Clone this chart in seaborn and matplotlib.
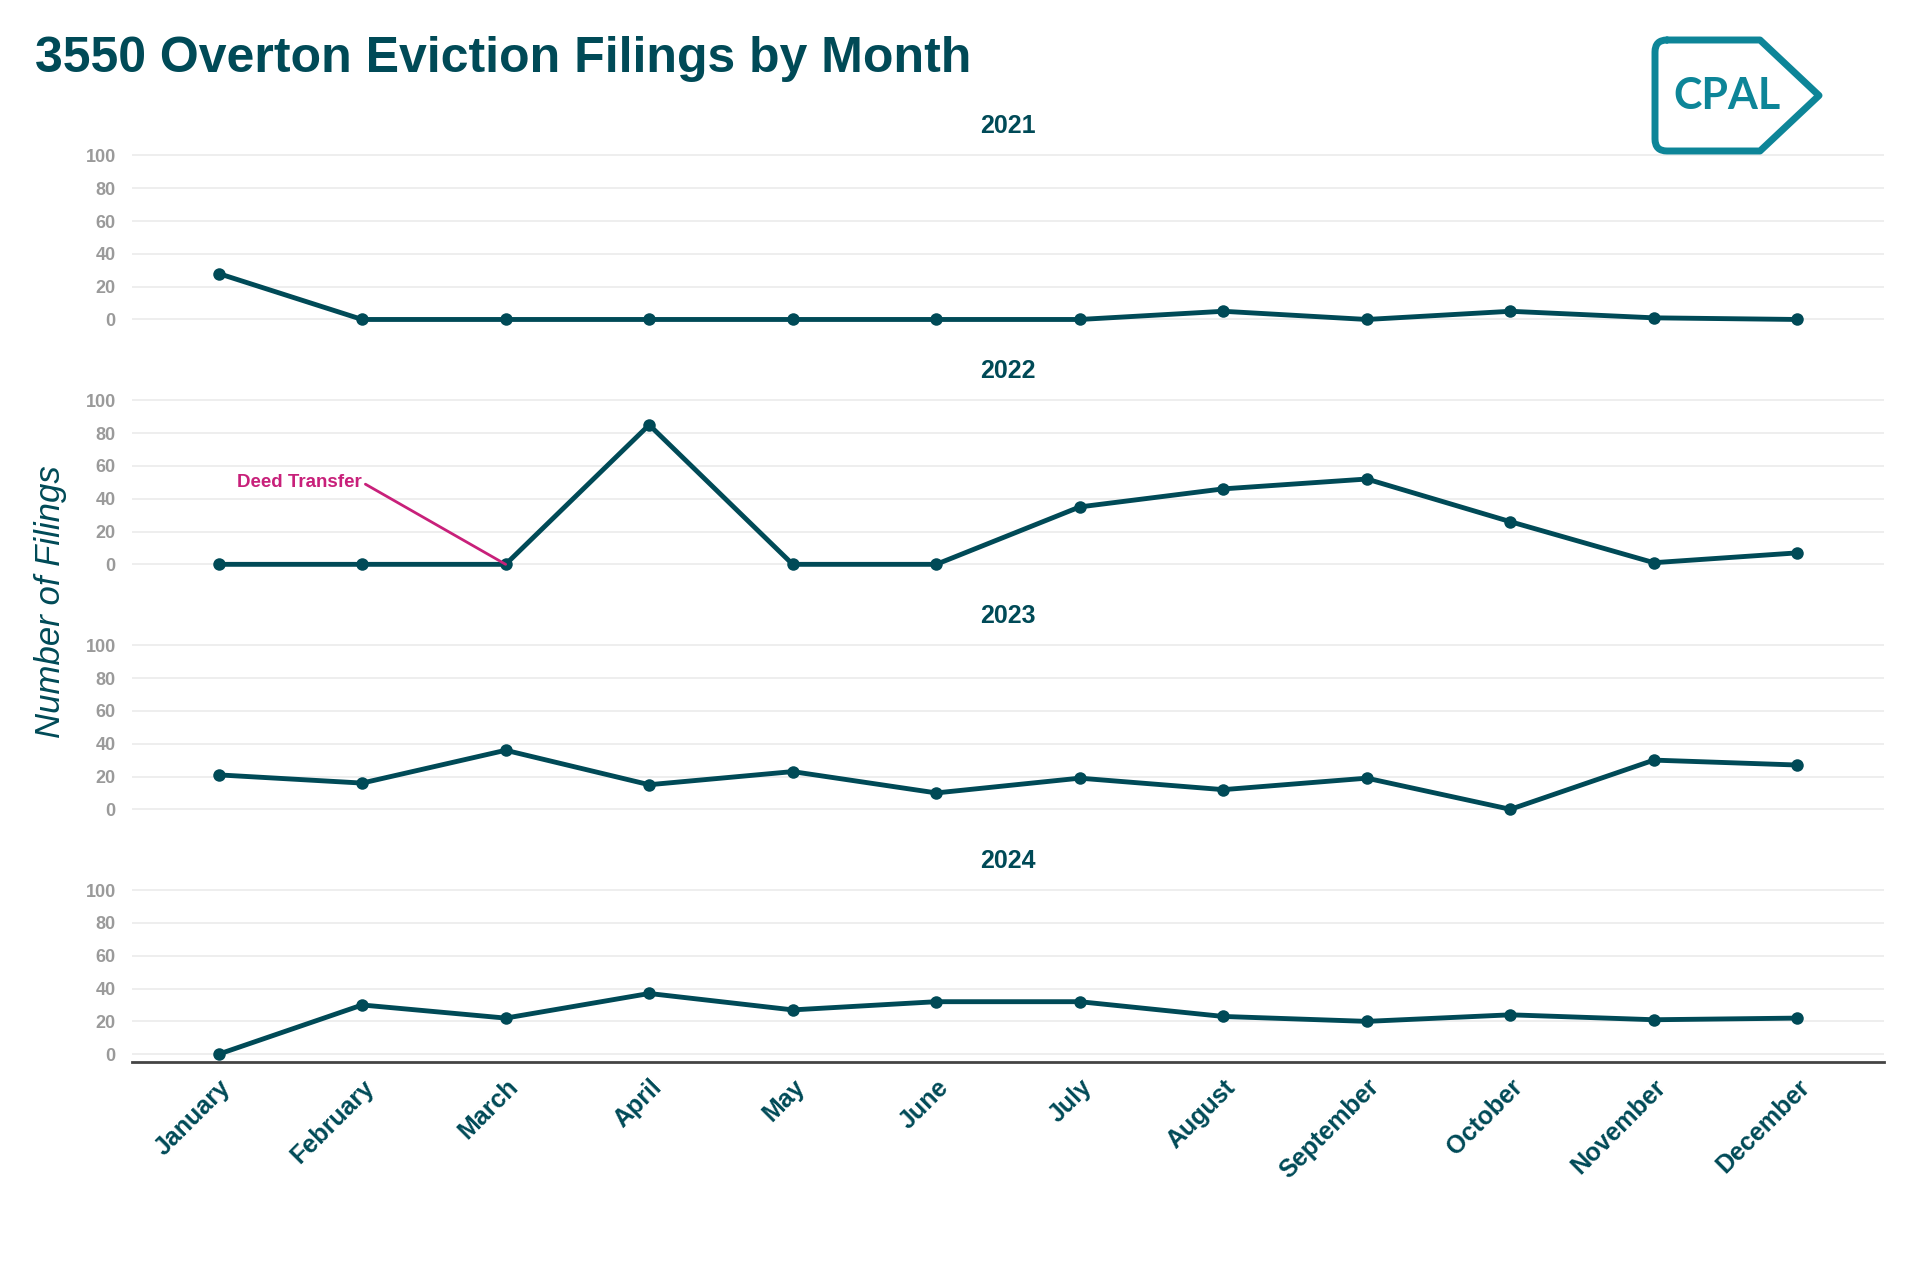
import numpy as np
import pandas as pd
import seaborn as sns
import matplotlib.pyplot as plt
from matplotlib.path import Path
from matplotlib.patches import PathPatch

months = ['January', 'February', 'March', 'April', 'May', 'June', 'July',
          'August', 'September', 'October', 'November', 'December']
years = ['2021', '2022', '2023', '2024']
filings_2021 = [28, 0, 0, 0, 0, 0, 0, 5, 0, 5, 1, 0]
filings_2022 = [0, 0, 0, 85, 0, 0, 35, 46, 52, 26, 1, 7]
filings_2023 = [21, 16, 36, 15, 23, 10, 19, 12, 19, 0, 30, 27]
filings_2024 = [0, 30, 22, 37, 27, 32, 32, 23, 20, 24, 21, 22]
yticks = [0, 20, 40, 60, 80, 100]

#
#
#
dark = '#004a57'
grey = '#9a9a9a'
magenta = '#c8207a'
logo_color = '#0d8598'

df = pd.DataFrame({
    'month': months * 4,
    'year': np.repeat(years, 12),
    'filings': filings_2021 + filings_2022 + filings_2023 + filings_2024,
})
df['pos'] = df['month'].map({m: i for i, m in enumerate(months)})

sns.set_style('white')
plt.rcParams['font.family'] = ['Liberation Sans', 'DejaVu Sans']

fig = plt.figure(figsize=(19.2, 12.8), dpi=100)

left, width, height = 0.069, 0.912, 0.141
bottoms = [0.744, 0.5527, 0.3613, 0.170]

axes = []
for year, bottom in zip(years, bottoms):
    ax = fig.add_axes([left, bottom, width, height])
    sns.lineplot(data=df[df['year'] == year], x='pos', y='filings',
                 color=dark, linewidth=3.5, marker='o', markersize=9,
                 markeredgewidth=0, ax=ax)
    ax.set_xlim(-0.6, 11.6)
    ax.set_ylim(-5, 105)
    ax.set_yticks(yticks)
    ax.set_yticklabels([str(t) for t in yticks], fontsize=13,
                       fontweight='bold', color=grey)
    ax.yaxis.grid(True, color='#ebebeb', linewidth=1.2)
    ax.set_axisbelow(True)
    ax.tick_params(axis='y', length=0, pad=12)
    ax.tick_params(axis='x', length=0)
    ax.set_xlabel('')
    ax.set_ylabel('')
    ax.set_title(year, fontsize=18, fontweight='bold', color=dark, pad=10)
    for side in ['top', 'right', 'left', 'bottom']:
        ax.spines[side].set_visible(False)
    ax.set_xticks(range(12))
    ax.set_xticklabels([])
    axes.append(ax)

last = axes[-1]
last.spines['bottom'].set_visible(True)
last.spines['bottom'].set_color('#444444')
last.spines['bottom'].set_linewidth(2)
last.set_xticklabels(months, rotation=45, ha='right', rotation_mode='anchor',
                     fontsize=18, fontweight='bold', color=dark)
last.tick_params(axis='x', pad=9)

axes[1].annotate('Deed Transfer', xy=(2, 0), xytext=(1, 50),
                 fontsize=13.5, fontweight='bold', color=magenta,
                 ha='right', va='center',
                 arrowprops=dict(arrowstyle='-', color=magenta, linewidth=2,
                                 shrinkA=0, shrinkB=0, relpos=(1, 0.5)))

fig.text(0.018, 0.954, '3550 Overton Eviction Filings by Month',
         fontsize=36, fontweight='bold', color=dark, ha='left', va='center')
fig.text(0.0265, 0.530, 'Number of Filings', fontsize=25, style='italic',
         color=dark, rotation=90, ha='center', va='center')

# logo tag
W, H = 1920, 1280
r = 12
x0, x1, tip = 1655, 1760, 1819
top, mid, bot = 40, 95.5, 151
pts = [(x0 + r, top), (x1, top), (tip, mid), (x1, bot), (x0 + r, bot),
       (x0, bot), (x0, bot - r), (x0, top + r), (x0, top), (x0 + r, top)]
codes = [Path.MOVETO, Path.LINETO, Path.LINETO, Path.LINETO, Path.LINETO,
         Path.CURVE3, Path.CURVE3, Path.LINETO, Path.CURVE3, Path.CURVE3]
verts = [(x / W, 1 - y / H) for x, y in pts]
fig.patches.append(PathPatch(Path(verts, codes), transform=fig.transFigure,
                             facecolor='none', edgecolor=logo_color,
                             linewidth=5, joinstyle='round', capstyle='round'))
fig.text(1727 / W, 1 - 96 / H, 'CPAL', fontsize=31, fontweight='bold',
         color=logo_color, ha='center', va='center',
         family=['Lato', 'DejaVu Sans'])

plt.savefig('out.png', dpi=100)
